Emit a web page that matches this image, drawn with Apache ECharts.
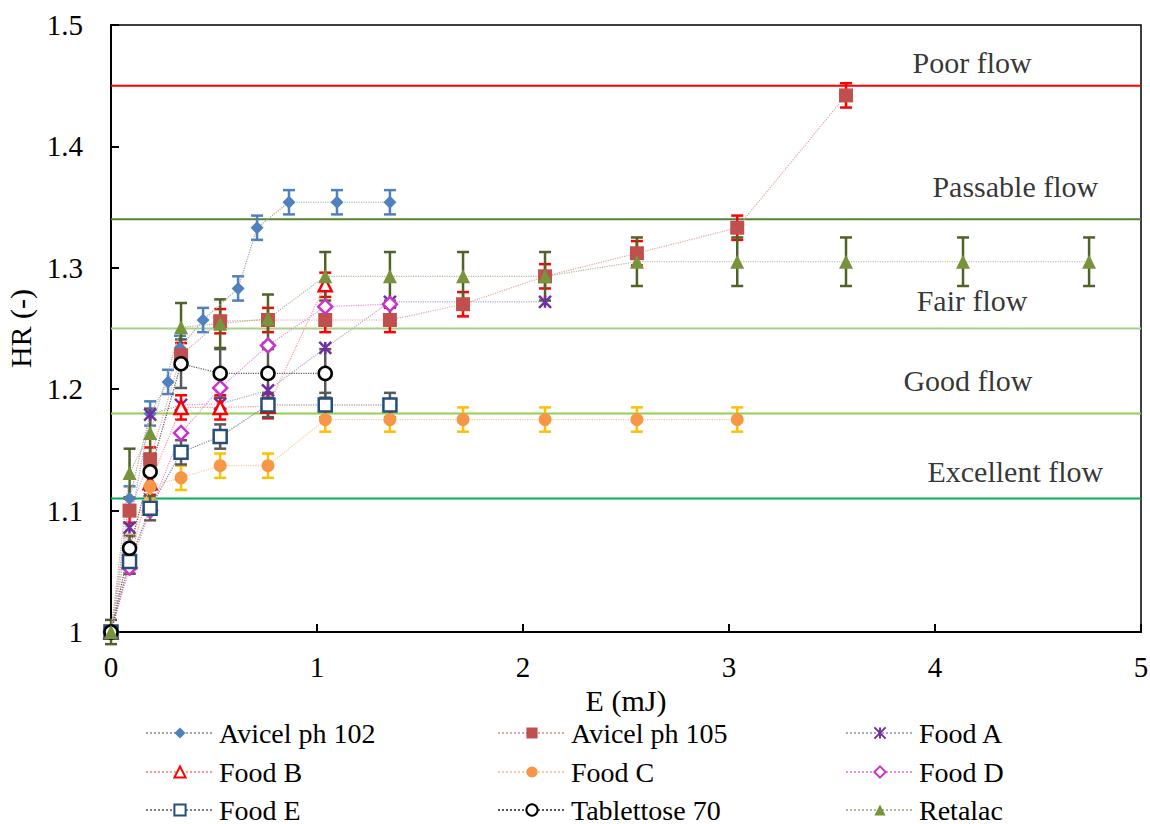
<!DOCTYPE html>
<html>
<head>
<meta charset="utf-8">
<script src="https://cdn.jsdelivr.net/npm/echarts@6/dist/echarts.min.js"></script>
<style>html,body{margin:0;padding:0;background:#fff}#c{width:1150px;height:824px}</style>
</head>
<body>
<div id="c"></div>
<script>
// ---- data ----
const seriesNames = ['Avicel ph 102','Avicel ph 105','Food A','Food B','Food C','Food D','Food E','Tablettose 70','Retalac'];

const xAvicel102 = [0, 0.09, 0.19, 0.277, 0.335, 0.447, 0.617, 0.709, 0.864, 1.097, 1.354];
const yAvicel102 = [1.0, 1.11, 1.18, 1.206, 1.234, 1.257, 1.283, 1.333, 1.354, 1.354, 1.354];
const eAvicel102 = [0, 0.01, 0.01, 0.01, 0.01, 0.01, 0.01, 0.01, 0.01, 0.01, 0.01];

const xAvicel105 = [0, 0.09, 0.19, 0.34, 0.53, 0.762, 1.04, 1.354, 1.709, 2.107, 2.553, 3.04, 3.568];
const yAvicel105 = [1.0, 1.10, 1.142, 1.228, 1.256, 1.257, 1.257, 1.257, 1.270, 1.293, 1.312, 1.333, 1.442];
const eAvicel105 = [0, 0.01, 0.01, 0.01, 0.01, 0.01, 0.01, 0.01, 0.01, 0.01, 0.01, 0.01, 0.01];

const xFoodA = [0, 0.09, 0.19, 0.34, 0.53, 0.762, 1.04, 1.354, 2.107];
const yFoodA = [1.0, 1.086, 1.179, 1.187, 1.188, 1.199, 1.234, 1.272, 1.272];
const eFoodA = [0, 0, 0, 0, 0, 0, 0, 0, 0];

const xFoodB = [0, 0.09, 0.19, 0.34, 0.53, 0.762, 1.04];
const yFoodB = [1.0, 1.058, 1.123, 1.185, 1.185, 1.186, 1.286];
const eFoodB = [0, 0.01, 0.01, 0.01, 0.01, 0.01, 0.01];

const xFoodC = [0, 0.09, 0.19, 0.34, 0.53, 0.762, 1.04, 1.354, 1.709, 2.107, 2.553, 3.04];
const yFoodC = [1.0, 1.07, 1.12, 1.127, 1.137, 1.137, 1.175, 1.175, 1.175, 1.175, 1.175, 1.175];
const eFoodC = [0, 0.01, 0.01, 0.01, 0.01, 0.01, 0.01, 0.01, 0.01, 0.01, 0.01, 0.01];

const xFoodD = [0, 0.09, 0.19, 0.34, 0.53, 0.762, 1.04, 1.354];
const yFoodD = [1.0, 1.053, 1.10, 1.164, 1.201, 1.236, 1.268, 1.270];
const eFoodD = [0, 0, 0, 0, 0, 0, 0, 0];

const xFoodE = [0, 0.09, 0.19, 0.34, 0.53, 0.762, 1.04, 1.354];
const yFoodE = [1.0, 1.058, 1.102, 1.148, 1.161, 1.187, 1.187, 1.187];
const eFoodE = [0, 0.01, 0.01, 0.01, 0.01, 0.01, 0.01, 0.01];

const xTablettose = [0, 0.09, 0.19, 0.34, 0.53, 0.762, 1.04];
const yTablettose = [1.0, 1.069, 1.132, 1.221, 1.213, 1.213, 1.213];
const eTablettose = [0, 0.01, 0.015, 0.02, 0.02, 0.02, 0.02];

const xRetalac = [0, 0.09, 0.19, 0.34, 0.53, 0.762, 1.04, 1.354, 1.709, 2.107, 2.553, 3.04, 3.568, 4.136, 4.748];
const yRetalac = [1.0, 1.131, 1.164, 1.251, 1.254, 1.258, 1.293, 1.293, 1.293, 1.293, 1.305, 1.305, 1.305, 1.305, 1.305];
const eRetalac = [0.01, 0.02, 0.02, 0.02, 0.02, 0.02, 0.02, 0.02, 0.02, 0.02, 0.02, 0.02, 0.02, 0.02, 0.02];

const flowLimits = [1.45, 1.34, 1.25, 1.18, 1.11];
const flowLabels = ['Poor flow', 'Passable flow', 'Fair flow', 'Good flow', 'Excellent flow'];
const flowLabelX = [4.18, 4.39, 4.18, 4.16, 4.39];
const flowLabelY = [1.4695, 1.367, 1.273, 1.207, 1.132];

const xTicks = [0, 1, 2, 3, 4, 5];
const yTicks = [1, 1.1, 1.2, 1.3, 1.4, 1.5];

// ---- styles ----
const FONT = 'Liberation Serif';
const flowColors = ['#ff0000', '#548235', '#a9d18e', '#92d050', '#00b050'];
const asterisk = 'path://M0,0L10,10M10,0L0,10M5,0L5,10';
const styles = [
  {sym:'diamond', size:13, fill:'#4f81bd', border:'#4f81bd', bw:0, line:'#a6a6a6', bar:'#4f81bd'},
  {sym:'rect', size:14, fill:'#c0504d', border:'#c0504d', bw:0, line:'#e6a5a3', bar:'#ff0000'},
  {sym:asterisk, size:12, fill:'none', border:'#7030a0', bw:2.5, line:'#b3a2c7', bar:'#7030a0'},
  {sym:'triangle', size:13, fill:'#ffffff', border:'#ff0000', bw:2.5, line:'#ff9999', bar:'#ff0000'},
  {sym:'circle', size:13, fill:'#f79646', border:'#f79646', bw:0, line:'#fbc9a6', bar:'#ffc000'},
  {sym:'diamond', size:14, fill:'#ffffff', border:'#cc33cc', bw:2.5, line:'#e48fe4', bar:'#cc33cc'},
  {sym:'rect', size:13, fill:'#ffffff', border:'#254e7a', bw:2.5, line:'#7f7f7f', bar:'#595959'},
  {sym:'circle', size:13, fill:'#ffffff', border:'#000000', bw:2.5, line:'#595959', bar:'#595959'},
  {sym:'triangle', size:14, fill:'#77933c', border:'#77933c', bw:0, line:'#b8b59a', bar:'#4f6228'}
];
const xs = [xAvicel102, xAvicel105, xFoodA, xFoodB, xFoodC, xFoodD, xFoodE, xTablettose, xRetalac];
const ys = [yAvicel102, yAvicel105, yFoodA, yFoodB, yFoodC, yFoodD, yFoodE, yTablettose, yRetalac];
const es = [eAvicel102, eAvicel105, eFoodA, eFoodB, eFoodC, eFoodD, eFoodE, eTablettose, eRetalac];

const series = [];
flowLimits.forEach((v, i) => {
  series.push({
    type: 'line', name: 'ref' + i, silent: true, symbol: 'none', z: 1,
    data: [[xTicks[0], v], [xTicks[xTicks.length - 1], v]],
    lineStyle: {color: flowColors[i], width: 2}
  });
});
series.push({
  type: 'scatter', name: 'flowlabels', silent: true, symbolSize: 0, z: 1,
  data: flowLabels.map((t, i) => ({value: [flowLabelX[i], flowLabelY[i]], name: t})),
  label: {show: true, position: 'inside', formatter: p => p.name,
          color: '#000', fontFamily: FONT, fontSize: 30}
});
seriesNames.forEach((n, i) => {
  const st = styles[i];
  series.push({
    type: 'custom', name: 'err' + i, silent: true, z: 2,
    data: xs[i].map((x, k) => [x, ys[i][k], es[i][k]]),
    renderItem: function (params, api) {
      const x = api.value(0), y = api.value(1), e = api.value(2);
      if (!e) return null;
      const top = api.coord([x, y + e]);
      const bot = api.coord([x, y - e]);
      const hw = 6;
      const s = {stroke: st.bar, lineWidth: 2.5};
      return {type: 'group', children: [
        {type: 'line', shape: {x1: top[0], y1: top[1], x2: bot[0], y2: bot[1]}, style: s},
        {type: 'line', shape: {x1: top[0] - hw, y1: top[1], x2: top[0] + hw, y2: top[1]}, style: s},
        {type: 'line', shape: {x1: bot[0] - hw, y1: bot[1], x2: bot[0] + hw, y2: bot[1]}, style: s}
      ]};
    }
  });
});
seriesNames.forEach((n, i) => {
  const st = styles[i];
  series.push({
    type: 'line', name: n, z: 3,
    data: xs[i].map((x, k) => [x, ys[i][k]]),
    symbol: st.sym, symbolSize: st.size, showSymbol: true,
    lineStyle: {color: st.line, width: 1.2, type: 'dotted'},
    itemStyle: {color: st.fill, borderColor: st.border, borderWidth: st.bw},
    emphasis: {disabled: true}
  });
});

const legendCols = [145, 497, 845];
const legendRows = [719, 758, 796];
const legends = seriesNames.map((n, i) => ({
  orient: 'horizontal', left: legendCols[i % 3], top: legendRows[Math.floor(i / 3)],
  padding: 0, itemWidth: 68, itemHeight: 14, selectedMode: false,
  textStyle: {fontFamily: FONT, fontSize: 28, color: '#000', lineHeight: 26},
  data: [n]
}));

const option = {
  animation: false,
  backgroundColor: '#fff',
  textStyle: {fontFamily: FONT},
  grid: {left: 111, right: 9, top: 25, bottom: 192, show: true, borderColor: '#000', borderWidth: 1.5,
         containLabel: false, outerBoundsMode: 'none'},
  legend: legends,
  xAxis: {
    type: 'value', min: xTicks[0], max: xTicks[xTicks.length - 1], interval: 1,
    name: 'E (mJ)', nameLocation: 'middle', nameGap: 22,
    nameTextStyle: {fontFamily: FONT, fontSize: 30, color: '#000'},
    axisLine: {show: true, lineStyle: {color: '#000', width: 2}},
    axisTick: {show: true, inside: true, length: 8, lineStyle: {color: '#000', width: 2}},
    axisLabel: {fontFamily: FONT, fontSize: 29, color: '#000', margin: 20},
    splitLine: {show: false}
  },
  yAxis: {
    type: 'value', min: yTicks[0], max: yTicks[yTicks.length - 1], interval: 0.1,
    name: 'HR (-)', nameLocation: 'middle', nameGap: 70, nameRotate: 90,
    nameTextStyle: {fontFamily: FONT, fontSize: 30, color: '#000'},
    axisLine: {show: true, lineStyle: {color: '#000', width: 2}},
    axisTick: {show: true, inside: true, length: 8, lineStyle: {color: '#000', width: 2}},
    axisLabel: {fontFamily: FONT, fontSize: 29, color: '#000', margin: 28,
                formatter: v => String(Math.round(v * 10) / 10)},
    splitLine: {show: false}
  },
  series: series
};

const chart = echarts.init(document.getElementById('c'), null, {renderer: 'svg'});
chart.setOption(option);
</script>
</body>
</html>
